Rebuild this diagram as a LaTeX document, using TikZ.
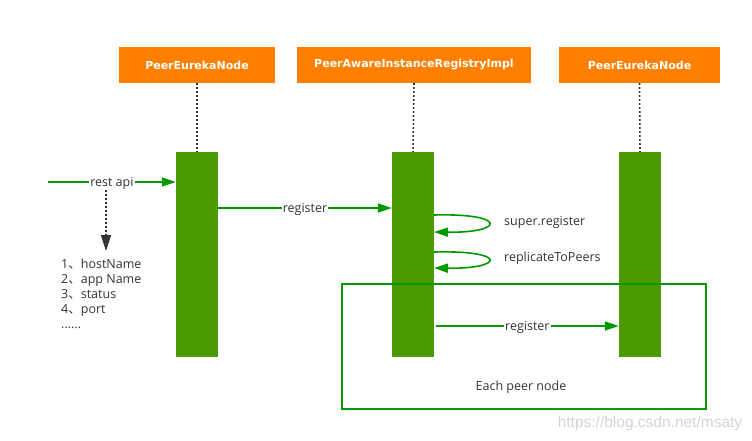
\documentclass[tikz,border=0pt]{standalone}
\usepackage{fontspec}
\setmainfont{Open Sans}
\newfontfamily\cjk{Noto Sans CJK SC}
\newfontfamily\wmfont{Liberation Sans}
\newfontfamily\hdfont{DejaVu Sans}
\usetikzlibrary{arrows.meta,calc}
\definecolor{hdorange}{HTML}{FF8000}
\definecolor{barGreen}{HTML}{4D9900}
\definecolor{lineGreen}{HTML}{009900}
\definecolor{txtgray}{HTML}{333333}
\definecolor{wmgray}{HTML}{D4D4D4}
\newcommand{\dun}{{\cjk 、}}
\begin{document}
\begin{tikzpicture}[x=1pt,y=-1pt,
  head/.style={fill=hdorange, text=white, font=\hdfont\fontsize{11}{13}\selectfont\bfseries, inner sep=0pt, minimum height=36pt},
  actbar/.style={fill=barGreen, inner sep=0pt, minimum width=42pt, minimum height=205pt},
  lifeline/.style={draw=txtgray, line width=1.6pt, dash pattern=on 1.6pt off 2.4pt},
  garrow/.style={draw=lineGreen, line width=1.6pt, -{Triangle[length=14pt,width=9pt]}},
  lbl/.style={font=\fontsize{12.5}{15}\selectfont, text=txtgray, inner sep=1pt},
  wlbl/.style={lbl, fill=white}
]
\useasboundingbox (0,0) rectangle (752,440);
% headers
\node[head, minimum width=156pt] (h1) at (197,65) {PeerEurekaNode};
\node[head, minimum width=234pt] (h2) at (414,65) {PeerAwareInstanceRegistryImpl};
\node[head, minimum width=161pt] (h3) at (639.5,65) {PeerEurekaNode};
% activation bars
\node[actbar] (b1) at (197,254.5) {};
\node[actbar] (b2) at (413,254.5) {};
\node[actbar] (b3) at (640,254.5) {};
% lifelines
\draw[lifeline] (h1.south) -- (b1.north);
\draw[lifeline] (h2.south) -- (b2.north);
\draw[lifeline] (h3.south) -- (b3.north);
% peer box
\node[draw=lineGreen, line width=1.6pt, minimum width=364pt, minimum height=125pt, inner sep=0pt] (peer) at (524,346.5) {};
\node[lbl] (peerlbl) at (521,387.5) {Each peer node};
% rest api
\coordinate (rs) at (48,182);
\draw[garrow] (rs) -- (b1.west |- rs) node[wlbl, midway, yshift=-1pt] (rest) {rest api};
\coordinate (d1) at (106,190);
\coordinate (d2) at (106,251);
\draw[lifeline, -{Triangle[length=16pt,width=10pt]}, draw=txtgray, fill=txtgray] (d1) -- (d2);
\node[lbl, anchor=north west, align=left, font=\fontsize{12.5}{15}\selectfont] (list) at (60,258) {1\dun hostName\\2\dun app Name\\3\dun status\\4\dun port\\......};
% register 1
\coordinate (r1) at (218,208);
\draw[garrow] (b1.east |- r1) -- (b2.west |- r1) node[wlbl, midway, yshift=-1pt] (reg1) {register};
% self loops
\coordinate (l1a) at (434,215);
\coordinate (l1b) at (434,232);
\draw[garrow] (l1a) .. controls (508,213) and (505,233) .. (l1b);
\node[lbl, anchor=west] (sup) at (503,222.5) {super.register};
\coordinate (l2a) at (434,252);
\coordinate (l2b) at (434,268);
\draw[garrow] (l2a) .. controls (508,250) and (505,269) .. (l2b);
\node[lbl, anchor=west] (rep) at (503,258.5) {replicateToPeers};
% register 2
\coordinate (r2) at (436,326);
\draw[garrow] (r2) -- (b3.west |- r2) node[wlbl, midway, yshift=-1pt] (reg2) {register};
% watermark
\node[font=\wmfont\fontsize{15.5}{17}\selectfont, text=wmgray, inner sep=0pt] (wm) at (650,423) {https://blog.csdn.net/msaty};
\end{tikzpicture}
\end{document}
